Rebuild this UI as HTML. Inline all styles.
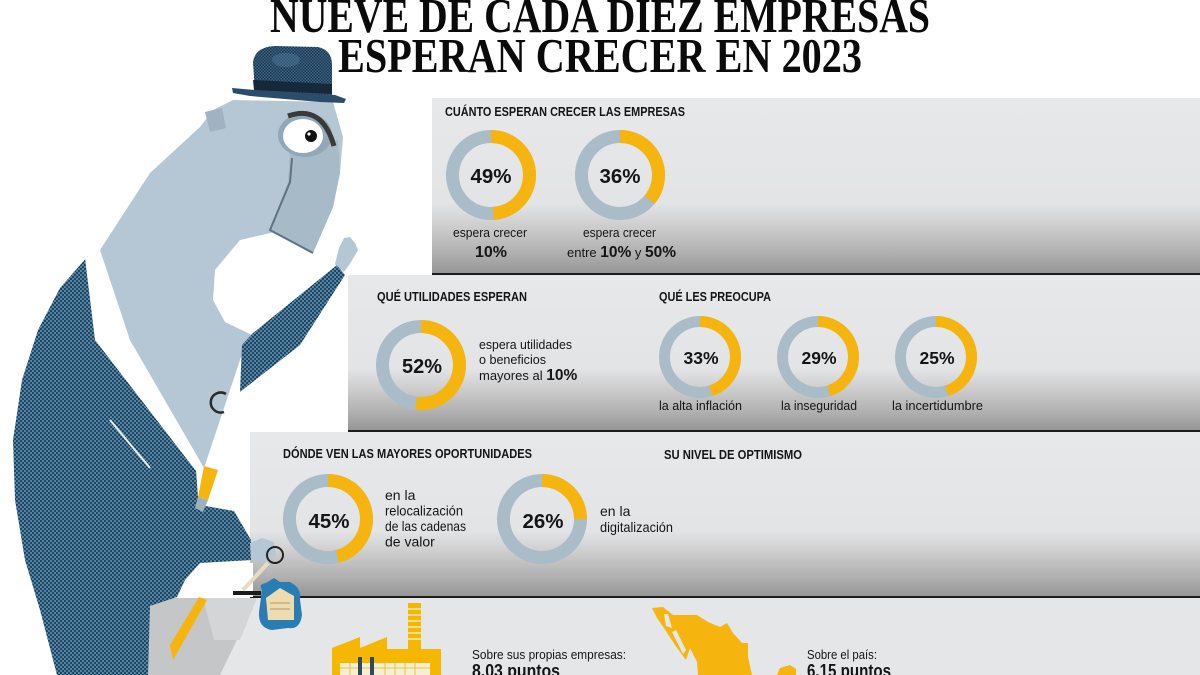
<!DOCTYPE html>
<html>
<head>
<meta charset="utf-8">
<style>
  html,body{margin:0;padding:0;background:#fff;}
  body{width:1200px;height:675px;overflow:hidden;}
  svg{display:block;}
  text{font-family:"Liberation Sans",Arial,sans-serif;fill:#151515;}
  .t{font-family:"Liberation Serif","Times New Roman",serif;font-weight:bold;fill:#0a0a0a;}
  .b{font-weight:bold;}
</style>
</head>
<body>
<svg width="1200" height="675" viewBox="0 0 1200 675" xmlns="http://www.w3.org/2000/svg">
  <defs>
    <linearGradient id="pg" x1="0" y1="0" x2="0" y2="1">
      <stop offset="0" stop-color="#e7e8ea"/>
      <stop offset="0.6" stop-color="#e3e4e6"/>
      <stop offset="0.72" stop-color="#cfcfd0"/>
      <stop offset="0.88" stop-color="#b0b0b1"/>
      <stop offset="1" stop-color="#959595"/>
    </linearGradient>
    <pattern id="tw" width="4" height="4" patternUnits="userSpaceOnUse">
      <rect width="4" height="4" fill="#5284a5"/>
      <path d="M0 0h2v2h-2zM2 2h2v2h-2z" fill="#234560"/>
    </pattern>
    <pattern id="hat" width="3" height="3" patternUnits="userSpaceOnUse">
      <rect width="3" height="3" fill="#3b6383"/>
      <path d="M0 0h1.5v1.5h-1.5zM1.5 1.5h1.5v1.5h-1.5z" fill="#1d3850"/>
    </pattern>
  </defs>

  <!-- TITLE -->
  <text class="t" x="270" y="32" font-size="49" textLength="660" lengthAdjust="spacingAndGlyphs">NUEVE DE CADA DIEZ EMPRESAS</text>
  <text class="t" x="338" y="72" font-size="49" textLength="524" lengthAdjust="spacingAndGlyphs">ESPERAN CRECER EN 2023</text>

  <!-- PANELS -->
  <rect x="432" y="98" width="768" height="176" fill="url(#pg)"/>
  <rect x="348" y="275" width="852" height="156" fill="url(#pg)"/>
  <rect x="250" y="432" width="950" height="165" fill="url(#pg)"/>
  <rect x="150" y="598" width="1050" height="77" fill="#e4e6e8"/>
  <rect x="432" y="273" width="768" height="2" fill="#1c1c1c"/>
  <rect x="348" y="430" width="852" height="2" fill="#1c1c1c"/>
  <rect x="250" y="596" width="950" height="2" fill="#1c1c1c"/>

  <!-- PANEL 1 -->
  <text class="b" x="445" y="116" font-size="12.5" textLength="240" lengthAdjust="spacingAndGlyphs">CUÁNTO ESPERAN CRECER LAS EMPRESAS</text>
  <g fill="none" stroke-width="13">
    <circle cx="491" cy="175" r="38.5" stroke="#a9bcc8"/>
    <circle cx="491" cy="175" r="38.5" stroke="#f6b50e" stroke-dasharray="118.5 300" transform="rotate(-90 491 175)"/>
    <circle cx="620" cy="175" r="38.5" stroke="#a9bcc8"/>
    <circle cx="620" cy="175" r="38.5" stroke="#f6b50e" stroke-dasharray="87.1 300" transform="rotate(-90 620 175)"/>
  </g>
  <text class="b" x="491" y="183" font-size="20.5" text-anchor="middle">49%</text>
  <text class="b" x="620" y="183" font-size="20.5" text-anchor="middle">36%</text>
  <text x="453" y="237" font-size="13" textLength="74" lengthAdjust="spacingAndGlyphs">espera crecer</text>
  <text class="b" x="491" y="257" font-size="16" text-anchor="middle">10%</text>
  <text x="583" y="237" font-size="13" textLength="73" lengthAdjust="spacingAndGlyphs">espera crecer</text>
  <text x="567" y="257" font-size="13">entre <tspan class="b" font-size="15.5">10%</tspan> y <tspan class="b" font-size="15.5">50%</tspan></text>

  <!-- PANEL 2 -->
  <text class="b" x="377" y="301" font-size="12.5" textLength="150" lengthAdjust="spacingAndGlyphs">QUÉ UTILIDADES ESPERAN</text>
  <text class="b" x="659" y="301" font-size="12.5" textLength="112" lengthAdjust="spacingAndGlyphs">QUÉ LES PREOCUPA</text>
  <g fill="none" stroke-width="13">
    <circle cx="421" cy="365" r="38.5" stroke="#a9bcc8"/>
    <circle cx="421" cy="365" r="38.5" stroke="#f6b50e" stroke-dasharray="125.8 300" transform="rotate(-90 421 365)"/>
  </g>
  <g fill="none" stroke-width="11">
    <circle cx="700" cy="357" r="35.5" stroke="#a9bcc8"/>
    <circle cx="700" cy="357" r="35.5" stroke="#f6b50e" stroke-dasharray="100.4 300" transform="rotate(-90 700 357)"/>
    <circle cx="818" cy="357" r="35.5" stroke="#a9bcc8"/>
    <circle cx="818" cy="357" r="35.5" stroke="#f6b50e" stroke-dasharray="100.4 300" transform="rotate(-90 818 357)"/>
    <circle cx="936" cy="357" r="35.5" stroke="#a9bcc8"/>
    <circle cx="936" cy="357" r="35.5" stroke="#f6b50e" stroke-dasharray="100.4 300" transform="rotate(-90 936 357)"/>
  </g>
  <text class="b" x="422" y="373" font-size="20" text-anchor="middle">52%</text>
  <text class="b" x="701" y="364" font-size="17.5" text-anchor="middle">33%</text>
  <text class="b" x="819" y="364" font-size="17.5" text-anchor="middle">29%</text>
  <text class="b" x="937" y="364" font-size="17.5" text-anchor="middle">25%</text>
  <text x="479" y="349" font-size="13" textLength="93" lengthAdjust="spacingAndGlyphs">espera utilidades</text>
  <text x="479" y="364" font-size="13" textLength="67" lengthAdjust="spacingAndGlyphs">o beneficios</text>
  <text x="479" y="380" font-size="13">mayores al <tspan class="b" font-size="15.5">10%</tspan></text>
  <text x="659" y="410" font-size="13" textLength="83" lengthAdjust="spacingAndGlyphs">la alta inflación</text>
  <text x="781" y="410" font-size="13" textLength="76" lengthAdjust="spacingAndGlyphs">la inseguridad</text>
  <text x="892" y="410" font-size="13" textLength="91" lengthAdjust="spacingAndGlyphs">la incertidumbre</text>

  <!-- PANEL 3 -->
  <text class="b" x="283" y="458" font-size="12.5" textLength="249" lengthAdjust="spacingAndGlyphs">DÓNDE VEN LAS MAYORES OPORTUNIDADES</text>
  <text class="b" x="664" y="459" font-size="12.5" textLength="138" lengthAdjust="spacingAndGlyphs">SU NIVEL DE OPTIMISMO</text>
  <g fill="none" stroke-width="13">
    <circle cx="328" cy="519" r="38.5" stroke="#a9bcc8"/>
    <circle cx="328" cy="519" r="38.5" stroke="#f6b50e" stroke-dasharray="111.3 300" transform="rotate(-90 328 519)"/>
    <circle cx="542" cy="519" r="38.5" stroke="#a9bcc8"/>
    <circle cx="542" cy="519" r="38.5" stroke="#f6b50e" stroke-dasharray="60.5 300" transform="rotate(-90 542 519)"/>
  </g>
  <text class="b" x="329" y="528" font-size="20.5" text-anchor="middle">45%</text>
  <text class="b" x="543" y="528" font-size="20.5" text-anchor="middle">26%</text>
  <text x="385" y="500" font-size="14">en la</text>
  <text x="385" y="515.5" font-size="14" textLength="78" lengthAdjust="spacingAndGlyphs">relocalización</text>
  <text x="385" y="531" font-size="14" textLength="81" lengthAdjust="spacingAndGlyphs">de las cadenas</text>
  <text x="385" y="546.5" font-size="14">de valor</text>
  <text x="600" y="516" font-size="14">en la</text>
  <text x="600" y="532" font-size="14" textLength="73" lengthAdjust="spacingAndGlyphs">digitalización</text>

  <!-- PANEL 4 -->
  <g>
    <rect x="408" y="603" width="13" height="48" fill="#f5b700"/>
    <g fill="#f7dc8a">
      <rect x="408" y="608" width="13" height="2"/>
      <rect x="408" y="614" width="13" height="2"/>
      <rect x="408" y="620" width="13" height="2"/>
      <rect x="408" y="626" width="13" height="2"/>
      <rect x="408" y="632" width="13" height="2"/>
      <rect x="408" y="638" width="13" height="2"/>
    </g>
    <polygon points="332,675 332,648 360,637 360,648 387,637 387,649 441,649 441,675" fill="#f5b700"/>
    <rect x="340" y="663" width="90" height="12" fill="#f7efd2"/>
    <g stroke="#e8c24a" stroke-width="1">
      <line x1="340" y1="668" x2="430" y2="668"/>
      <line x1="350" y1="663" x2="350" y2="675"/>
      <line x1="385" y1="663" x2="385" y2="675"/>
      <line x1="395" y1="663" x2="395" y2="675"/>
      <line x1="405" y1="663" x2="405" y2="675"/>
      <line x1="415" y1="663" x2="415" y2="675"/>
    </g>
    <rect x="358" y="657" width="4" height="18" fill="#2e4a5e"/>
    <rect x="370" y="657" width="4" height="18" fill="#2e4a5e"/>
  </g>
  <text x="472" y="659" font-size="13" textLength="154" lengthAdjust="spacingAndGlyphs">Sobre sus propias empresas:</text>
  <text class="b" x="472" y="677" font-size="18" textLength="88" lengthAdjust="spacingAndGlyphs">8.03 puntos</text>
  <g fill="#f6b50e">
    <polygon points="652,608 663,607 673,615 697,615 708,622 720,627 727,623 733,633 742,643 748,643 748,657 752,675 698,675 697,662 690,648 686,660 675,645 664,628 657,618"/>
    <polygon points="777,675 780,668 790,665 796,669 796,675"/>
  </g>
  <polygon points="664,614 668,614 672,628 666,626" fill="#e4e6e8"/>
  <polygon points="672,632 676,630 686,650 683,654" fill="#e4e6e8"/>
  <text x="807" y="659" font-size="13" textLength="70" lengthAdjust="spacingAndGlyphs">Sobre el país:</text>
  <text class="b" x="807" y="677" font-size="18" textLength="84" lengthAdjust="spacingAndGlyphs">6.15 puntos</text>

  <!-- CHARACTER -->
  <polygon points="150,598 257,598 220,675 145,675" fill="#c5c6c8"/>
  <polygon points="203,598 257,598 240,640 214,640" fill="#d4d5d7"/>
  <polygon fill="url(#tw)" points="88,256 60,288 38,330 22,380 13,440 15,500 25,560 40,610 57,675 148,675 150,606 177,597 185,580 200,563 252,560 251,540 234,511 200,505 198,497 196,470"/>
  <rect x="200" y="563" width="53" height="34" fill="#fff"/>
  <polygon points="199,597 207,600 173,660 170,645" fill="#f6b50e"/>
  <polygon points="204,466 218,470 208,500 198,497" fill="#f6b50e"/>
  <polygon points="198,497 208,500 203,512 195,508" fill="#9fb0bd"/>
  <polygon points="85,258 100,250 130,340 204,468 196,471 95,340" fill="#ffffff"/>
  <polygon fill="#b5c7d4" points="213,110 233,100 333,102 343,137 340,173 333,207 313,253 275,232 240,240 215,270 213,300 225,322 252,335 245,345 204,468 130,340 100,250 150,173 200,127"/>
  <polygon fill="#a7bac8" points="290,148 338,140 340,173 333,207 313,253 270,230 288,182"/>
  <polyline points="292,158 290,182 270,230 313,253" fill="none" stroke="#5d7282" stroke-width="2"/>
  <polygon fill="#9fb3c2" points="205,112 222,108 226,128 210,132"/>
  <ellipse cx="305" cy="135" rx="27" ry="22" fill="#92a7b7"/>
  <ellipse cx="303" cy="136" rx="20" ry="17" fill="#ffffff"/>
  <circle cx="311" cy="136" r="6" fill="#111"/>
  <circle cx="309" cy="134" r="1.6" fill="#fff"/>
  <path d="M288,116 Q322,104 334,146" fill="none" stroke="#3a3a3a" stroke-width="5"/>
  <path d="M226,394 A10,10 0 1 0 224,412" fill="none" stroke="#2a2a2a" stroke-width="2.5"/>
  <line x1="110" y1="420" x2="150" y2="468" stroke="#e8eef2" stroke-width="2"/>
  <polygon fill="url(#tw)" points="253,333 337,265 345,275 300,345 240,392 242,345"/>
  <polygon fill="#b5c7d4" points="335,264 339,248 344,238 350,237 355,243 358,250 351,262 344,272"/>
  <polygon fill="#b5c7d4" points="250,543 262,538 274,542 276,556 262,562 251,560"/>
  <rect x="233" y="591" width="28" height="4" fill="#1a1a1a"/>
  <line x1="243" y1="590" x2="268" y2="563" stroke="#e6dcc0" stroke-width="4"/>
  <circle cx="275" cy="555" r="8" fill="none" stroke="#222" stroke-width="2"/>
  <path d="M262,590 Q258,584 266,583 L274,578 L280,582 L290,582 Q302,588 300,600 L302,615 Q300,630 288,628 L272,630 Q258,628 259,612 Z" fill="#2a7db3"/>
  <polygon points="266,598 280,588 294,596 294,620 268,620" fill="#ecdcb0"/>
  <line x1="270" y1="603" x2="290" y2="603" stroke="#b59a5f" stroke-width="1"/>
  <line x1="270" y1="609" x2="290" y2="609" stroke="#b59a5f" stroke-width="1"/>
  <path d="M255,92 L253,62 Q255,47 275,46 L318,47 Q332,50 332,65 L332,95 Z" fill="url(#hat)"/>
  <ellipse cx="286" cy="60" rx="14" ry="7" fill="#4a7190" opacity="0.6"/>
  <polygon points="253,80 332,84 332,94 254,90" fill="#15293a"/>
  <polygon points="232,88 255,90 335,95 346,99 344,103 320,102 250,96 233,93" fill="#2b4d6a"/>
</svg>
</body>
</html>
